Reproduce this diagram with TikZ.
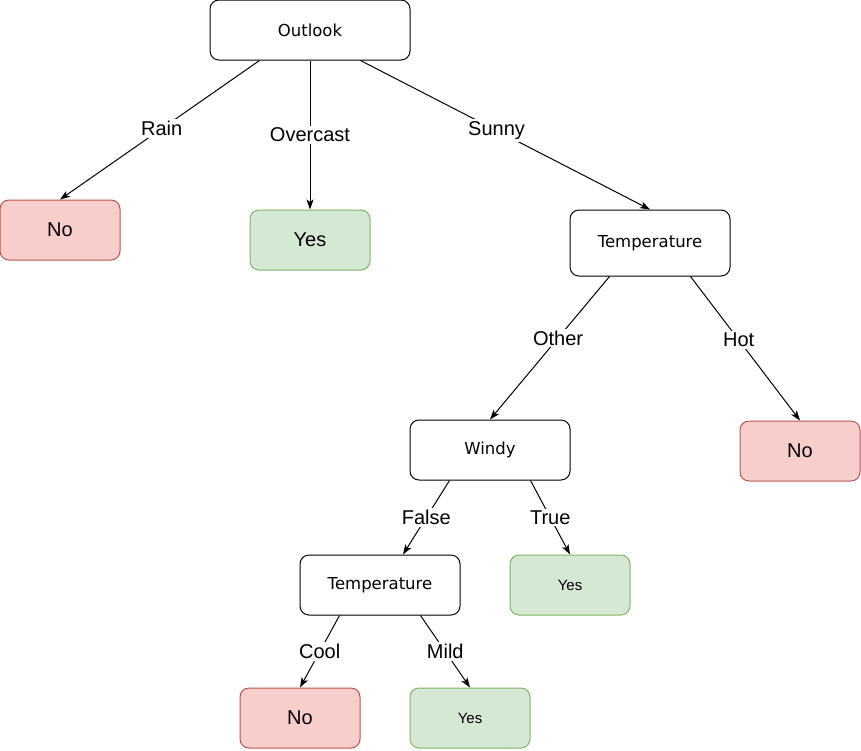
\documentclass[tikz,border=0pt]{standalone}
\usepackage{fontspec}
\setmainfont{Liberation Sans}
\newfontfamily\djv{DejaVu Sans}
\usetikzlibrary{arrows.meta}
\definecolor{redfill}{HTML}{F8CECC}
\definecolor{redline}{HTML}{B85450}
\definecolor{greenfill}{HTML}{D5E8D4}
\definecolor{greenline}{HTML}{82B366}
\tikzset{
  box/.style={draw=black, fill=white, rounded corners=9pt, line width=1pt, inner sep=0pt,
    minimum width=200pt, minimum height=60pt, font=\djv\fontsize{16.5}{20}\selectfont},
  attr/.style={box, minimum width=160pt},
  nobox/.style={box, draw=redline, fill=redfill, minimum width=120pt, font=\fontsize{20}{24}\selectfont},
  yesbox/.style={box, draw=greenline, fill=greenfill, minimum width=120pt, font=\fontsize{20}{24}\selectfont},
  yessmall/.style={yesbox, font=\fontsize{15}{18}\selectfont},
  edge/.style={line width=1pt, -{Stealth[length=10pt,width=7pt,inset=2.5pt]}},
  lab/.style={fill=white, inner sep=2pt, font=\fontsize{20}{24}\selectfont}
}
\begin{document}
\begin{tikzpicture}[x=1pt,y=-1pt]
\useasboundingbox (0,0) rectangle (861,750);
\node[box] (outlook) at (310,30) {Outlook};
\node[nobox] (no1) at (60,230) {No};
\node[yesbox] (yes1) at (310,240) {Yes};
\node[attr, minimum height=66pt] (temp1) at (650,243) {Temperature};
\node[nobox] (no2) at (800,451) {No};
\node[attr] (windy) at (490,450) {Windy};
\node[yessmall] (yes2) at (570,585) {Yes};
\node[attr] (temp2) at (380,585) {Temperature};
\node[nobox] (no3) at (300,718) {No};
\node[yessmall] (yes3) at (470,718) {Yes};

\draw[edge] ([xshift=50pt]outlook.south west) -- node[lab,pos=0.49]{Rain} (no1.north);
\draw[edge] (outlook.south) -- node[lab,pos=0.5]{Overcast} (yes1.north);
\draw[edge] ([xshift=-50pt]outlook.south east) -- node[lab,pos=0.47]{Sunny} (temp1.north);
\draw[edge] ([xshift=40pt]temp1.south west) -- node[lab,pos=0.43]{Other} (windy.north);
\draw[edge] ([xshift=-40pt]temp1.south east) -- node[lab,pos=0.44]{Hot} (no2.north);
\draw[edge] ([xshift=40pt]windy.south west) -- node[lab,pos=0.5]{False} ([xshift=23pt]temp2.north);
\draw[edge] ([xshift=-40pt]windy.south east) -- node[lab,pos=0.5]{True} (yes2.north);
\draw[edge] ([xshift=40pt]temp2.south west) -- node[lab,pos=0.5]{Cool} (no3.north);
\draw[edge] ([xshift=-40pt]temp2.south east) -- node[lab,pos=0.5]{Mild} (yes3.north);
\end{tikzpicture}
\end{document}
